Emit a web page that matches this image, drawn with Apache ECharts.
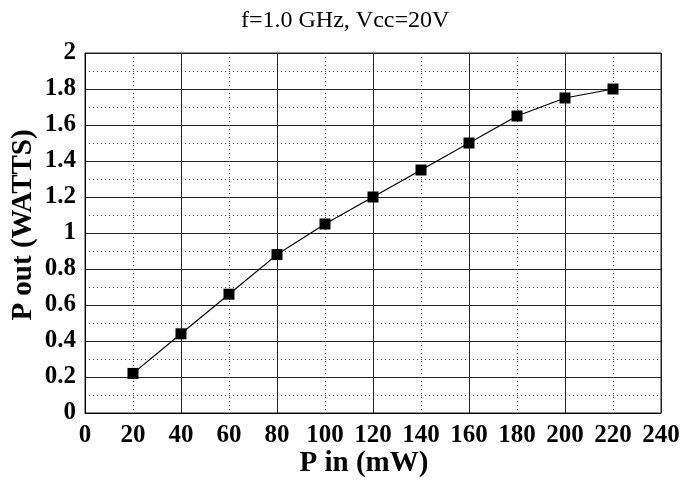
<!DOCTYPE html>
<html>
<head>
<meta charset="utf-8">
<script src="https://cdn.jsdelivr.net/npm/echarts@6/dist/echarts.min.js"></script>
<style>html,body{margin:0;padding:0;background:#fff;}#c{width:699px;height:490px;}</style>
</head>
<body>
<div id="c"></div>
<script>
const titleText = 'f=1.0 GHz, Vcc=20V';
const xName = 'P in (mW)';
const yName = 'P out (WATTS)';
const pin = [20, 40, 60, 80, 100, 120, 140, 160, 180, 200, 220];
const pout = [0.22, 0.44, 0.66, 0.88, 1.05, 1.20, 1.35, 1.50, 1.65, 1.75, 1.80];

const FONT = "'Liberation Serif', 'Times New Roman', serif";
const chart = echarts.init(document.getElementById('c'), null, {renderer: 'canvas'});
const data = pin.map((x, i) => [x, pout[i]]);

chart.setOption({
  backgroundColor: '#fff',
  animation: false,
  title: {
    text: titleText,
    left: 236, top: 4,
    textStyle: {fontFamily: FONT, fontSize: 24, fontWeight: 'normal', color: '#000'}
  },
  grid: {left: 85, right: 38, top: 53, bottom: 77, show: true, borderColor: '#222', borderWidth: 1, backgroundColor: '#fff', containLabel: false, outerBoundsMode: 'none'},
  xAxis: [
    {
      type: 'value', min: 0, max: 240, interval: 40, position: 'bottom',
      axisLine: {show: true, lineStyle: {color: '#000'}},
      axisTick: {show: false},
      axisLabel: {show: false},
      splitLine: {show: true, lineStyle: {color: '#222', width: 1}},
      minorTick: {show: false, splitNumber: 2},
      minorSplitLine: {show: true, lineStyle: {color: '#444', width: 1, type: [1, 3]}}
    },
    {
      type: 'value', min: 0, max: 240, interval: 20, position: 'bottom',
      name: xName, nameLocation: 'middle', nameGap: 36, nameMoveOverlap: false,
      nameTextStyle: {fontFamily: FONT, fontSize: 29, fontWeight: 'bold', color: '#000', padding: [0, 18, 0, 0]},
      axisLine: {show: false},
      axisTick: {show: false},
      axisLabel: {fontFamily: FONT, fontSize: 25, fontWeight: 'bold', color: '#000', margin: 10},
      splitLine: {show: false}
    }
  ],
  yAxis: {
    type: 'value', min: 0, max: 2, interval: 0.2,
    name: yName, nameLocation: 'middle', nameGap: 47, nameMoveOverlap: false,
    nameTextStyle: {fontFamily: FONT, fontSize: 29, fontWeight: 'bold', color: '#000', padding: [0, 0, 0, 16]},
    axisLine: {show: true, lineStyle: {color: '#000'}},
    axisTick: {show: false},
    axisLabel: {fontFamily: FONT, fontSize: 25, fontWeight: 'bold', color: '#000', margin: 9},
    splitLine: {show: true, lineStyle: {color: '#222', width: 1}},
    minorTick: {show: false, splitNumber: 2},
    minorSplitLine: {show: true, lineStyle: {color: '#444', width: 1, type: [1, 3]}}
  },
  series: [{
    type: 'line',
    xAxisIndex: 1,
    data: data,
    symbol: 'rect',
    symbolSize: 11,
    itemStyle: {color: '#000'},
    lineStyle: {color: '#000', width: 1.2}
  }]
});
</script>
</body>
</html>
